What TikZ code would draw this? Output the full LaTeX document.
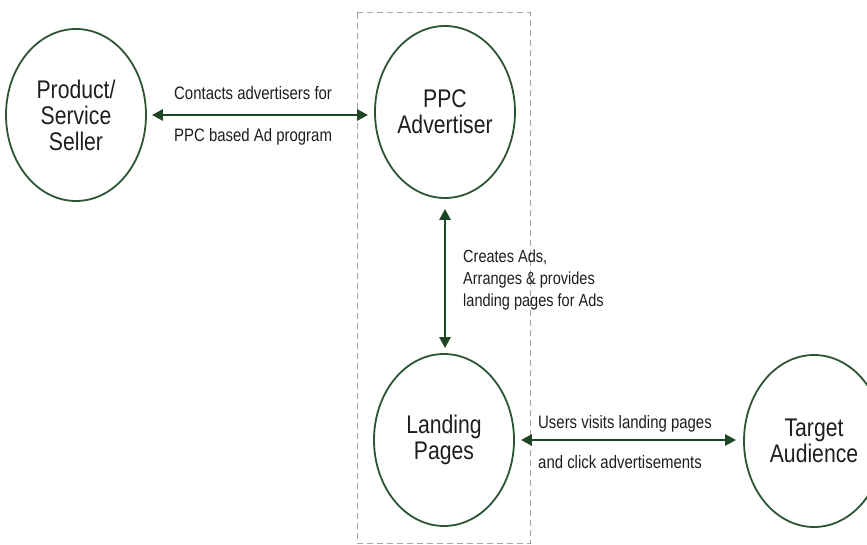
\documentclass[tikz,border=0pt]{standalone}
\usepackage{fontspec}
\setmainfont[FakeStretch=0.83]{Liberation Sans}
\usetikzlibrary{shapes.geometric,arrows.meta}
\definecolor{edgegreen}{RGB}{45,85,52}
\definecolor{arrowgreen}{RGB}{30,70,36}
\definecolor{boxgray}{RGB}{165,165,165}
\definecolor{txt}{RGB}{30,30,30}
\tikzset{
  party/.style={ellipse, draw=edgegreen, line width=1.8pt, minimum width=140pt, minimum height=172pt, inner sep=0pt, align=center, text=txt, font=\fontsize{25.5}{26}\selectfont},
  link/.style={draw=arrowgreen, line width=2.6pt, {Triangle[length=11pt,width=11pt]}-{Triangle[length=11pt,width=11pt]}},
  lbl/.style={anchor=base west, text=txt, inner sep=0pt, font=\fontsize{18}{22}\selectfont},
  zone/.style={draw=boxgray, line width=1pt, dash pattern=on 6pt off 4pt}
}
\begin{document}
\begin{tikzpicture}[x=1pt,y=-1pt]
\useasboundingbox (0,0) rectangle (867,545);
\draw[zone] (357,13) rectangle (530,543);
\node[party] (prod) at (76,115) {Product/\\Service\\Seller};
\node[party] (ppc) at (445,112) {PPC\\Advertiser};
\node[party] (land) at (444,440) {Landing\\Pages};
\node[party] (aud) at (814,441) {Target\\Audience};
\draw[link, shorten <=5pt, shorten >=6pt] (prod.east) -- (prod.east -| ppc.west);
\draw[link, shorten <=10pt, shorten >=5pt] (ppc.south) -- (ppc.south |- land.north);
\draw[link, shorten <=6pt, shorten >=7pt] (land.east) -- (land.east -| aud.west);
\node[lbl] (l1) at (174,100) {Contacts advertisers for};
\node[lbl] (l2) at (174,142) {PPC based Ad program};
\node[lbl, anchor=north west, align=left, font=\fontsize{17.5}{22}\selectfont] (l3) at (463,250) {Creates Ads,\\Arranges \& provides\\landing pages for Ads};
\node[lbl] (l4) at (538,428) {Users visits landing pages};
\node[lbl] (l5) at (538,468) {and click advertisements};
\end{tikzpicture}
\end{document}
